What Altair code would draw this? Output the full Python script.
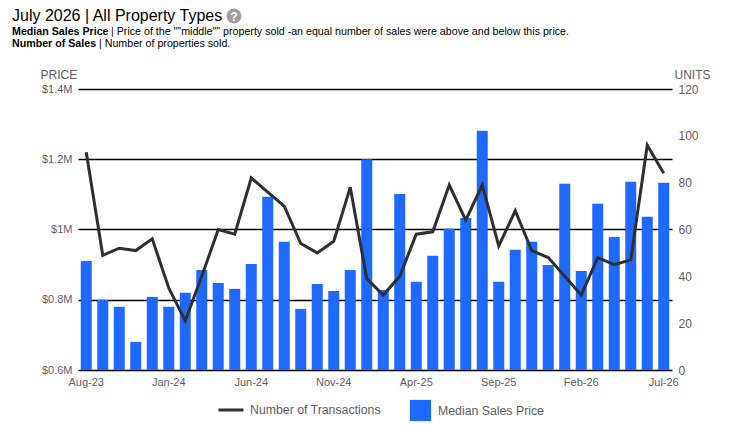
import altair as alt
import pandas as pd

months = ["Aug-23","Sep-23","Oct-23","Nov-23","Dec-23","Jan-24","Feb-24","Mar-24","Apr-24","May-24","Jun-24","Jul-24",
          "Aug-24","Sep-24","Oct-24","Nov-24","Dec-24","Jan-25","Feb-25","Mar-25","Apr-25","May-25","Jun-25","Jul-25",
          "Aug-25","Sep-25","Oct-25","Nov-25","Dec-25","Jan-26","Feb-26","Mar-26","Apr-26","May-26","Jun-26","Jul-26"]
price = [0.91,0.80,0.78,0.68,0.808,0.78,0.82,0.885,0.848,0.831,0.902,1.093,
         0.965,0.774,0.845,0.825,0.885,1.20,0.828,1.101,0.851,0.925,1.002,1.033,
         1.281,0.851,0.942,0.965,0.899,1.13,0.882,1.073,0.979,1.136,1.036,1.133]
units = [93,49,52,51,56,35,21,40,60,58,82,76,
         70,54,50,55,78,39,32,40,58,59,79,64,
         79,53,68,51,48,40,32,48,45,47,96,84]
x_labels = ["Aug-23","Jan-24","Jun-24","Nov-24","Apr-25","Sep-25","Feb-26","Jul-26"]
price_ticks = [0.6,0.8,1,1.2,1.4]
unit_ticks = [0,20,40,60,80,100,120]

FONT = "Liberation Sans"
GREY = "#5f5a66"
df = pd.DataFrame({"month": months, "price": price, "units": units,
                   "bar_name": "Median Sales Price", "line_name": "Number of Transactions"})
W, H = 594, 281
X0, Y0 = 70, 81  # padding to plot area


def legend(x, y, sym, size, off):
    return alt.Legend(title=None, orient="none", legendX=x, legendY=y, symbolType=sym, symbolSize=size,
                      labelFont=FONT, labelFontSize=12.3, labelColor=GREY, symbolStrokeWidth=3, labelOffset=off)


x = alt.X("month:N", sort=months, title=None,
          scale=alt.Scale(paddingInner=1/3, paddingOuter=1/6),
          axis=alt.Axis(values=x_labels, labelAngle=0, ticks=False, domain=False, grid=False, labelFont=FONT,
                        labelFontSize=11, labelColor=GREY, labelPadding=6, labelOverlap=False))

bars = alt.Chart(df).mark_bar().encode(
    x=x,
    y=alt.Y("price:Q", scale=alt.Scale(domain=[0.6, 1.4], zero=False, nice=False), title="PRICE",
            axis=alt.Axis(values=price_ticks, labelExpr="'$' + datum.value + 'M'", ticks=False, domain=False,
                          grid=True, gridColor="#000000", gridWidth=1.5, gridOpacity=1, labelFont=FONT,
                          labelFontSize=11, labelColor=GREY, labelPadding=6, titleFont=FONT, titleFontSize=12,
                          titleFontWeight="normal", titleColor=GREY, titleAngle=0, titleAlign="left",
                          titleBaseline="alphabetic", titleX=-38, titleY=-11)),
    y2=alt.Y2(datum=0.6),
    color=alt.Color("bar_name:N", scale=alt.Scale(range=["#1f69ff"]),
                    legend=legend(330, 309, "square", 450, 5)),
)

line = alt.Chart(df).mark_line(strokeWidth=3, color="#2d2f33").encode(
    x=x,
    y=alt.Y("units:Q", scale=alt.Scale(domain=[0, 120], nice=False), title="UNITS",
            axis=alt.Axis(orient="right", values=unit_ticks, ticks=False, domain=False, grid=False, labelFont=FONT,
                          labelFontSize=12, labelColor=GREY, labelPadding=6, titleFont=FONT, titleFontSize=12,
                          titleFontWeight="normal", titleColor=GREY, titleAngle=0, titleAlign="left",
                          titleBaseline="alphabetic", titleX=2, titleY=-11)),
    stroke=alt.Stroke("line_name:N", scale=alt.Scale(range=["#2d2f33"]),
                      legend=legend(139, 307, "stroke", 625, 5)),
)


def note(text, px, py, size, color="#000000", weight="normal", align="left"):
    return alt.Chart(pd.DataFrame({"t": [text]})).mark_text(
        align=align, baseline="alphabetic", font=FONT, fontSize=size, fontWeight=weight, color=color
    ).encode(text="t:N", x=alt.value(px - 8 - X0), y=alt.value(py - 8 - Y0))


TITLE = "July 2026 | All Property Types"
help_dot = alt.Chart(pd.DataFrame({"t": ["?"]})).mark_point(filled=True, size=225, opacity=1, color="#a0a0a0", shape="circle").encode(
    x=alt.value(234 - 8 - X0), y=alt.value(16 - 8 - Y0))

chart = alt.layer(
    bars, line,
    note(TITLE, 12, 20.5, 16),
    help_dot,
    note("?", 234, 20.5, 12, "#ffffff", "bold", "center"),
    note("Median Sales Price", 12, 35, 10.67, weight="bold"),
    note("| Price of the \"\"middle\"\" property sold -an equal number of sales were above and below this price.", 111, 35, 10.67),
    note("Number of Sales", 12, 47, 10.67, weight="bold"),
    note("| Number of properties sold.", 99, 47, 10.67),
).resolve_scale(y="independent", color="independent", stroke="independent").properties(
    width=W, height=H, padding={"left": X0, "top": Y0, "right": 50, "bottom": 54},
    autosize=alt.AutoSizeParams(type="none"),
).configure_view(stroke=None)

chart.save("out.html", embed_options={"renderer": "svg", "actions": False})
